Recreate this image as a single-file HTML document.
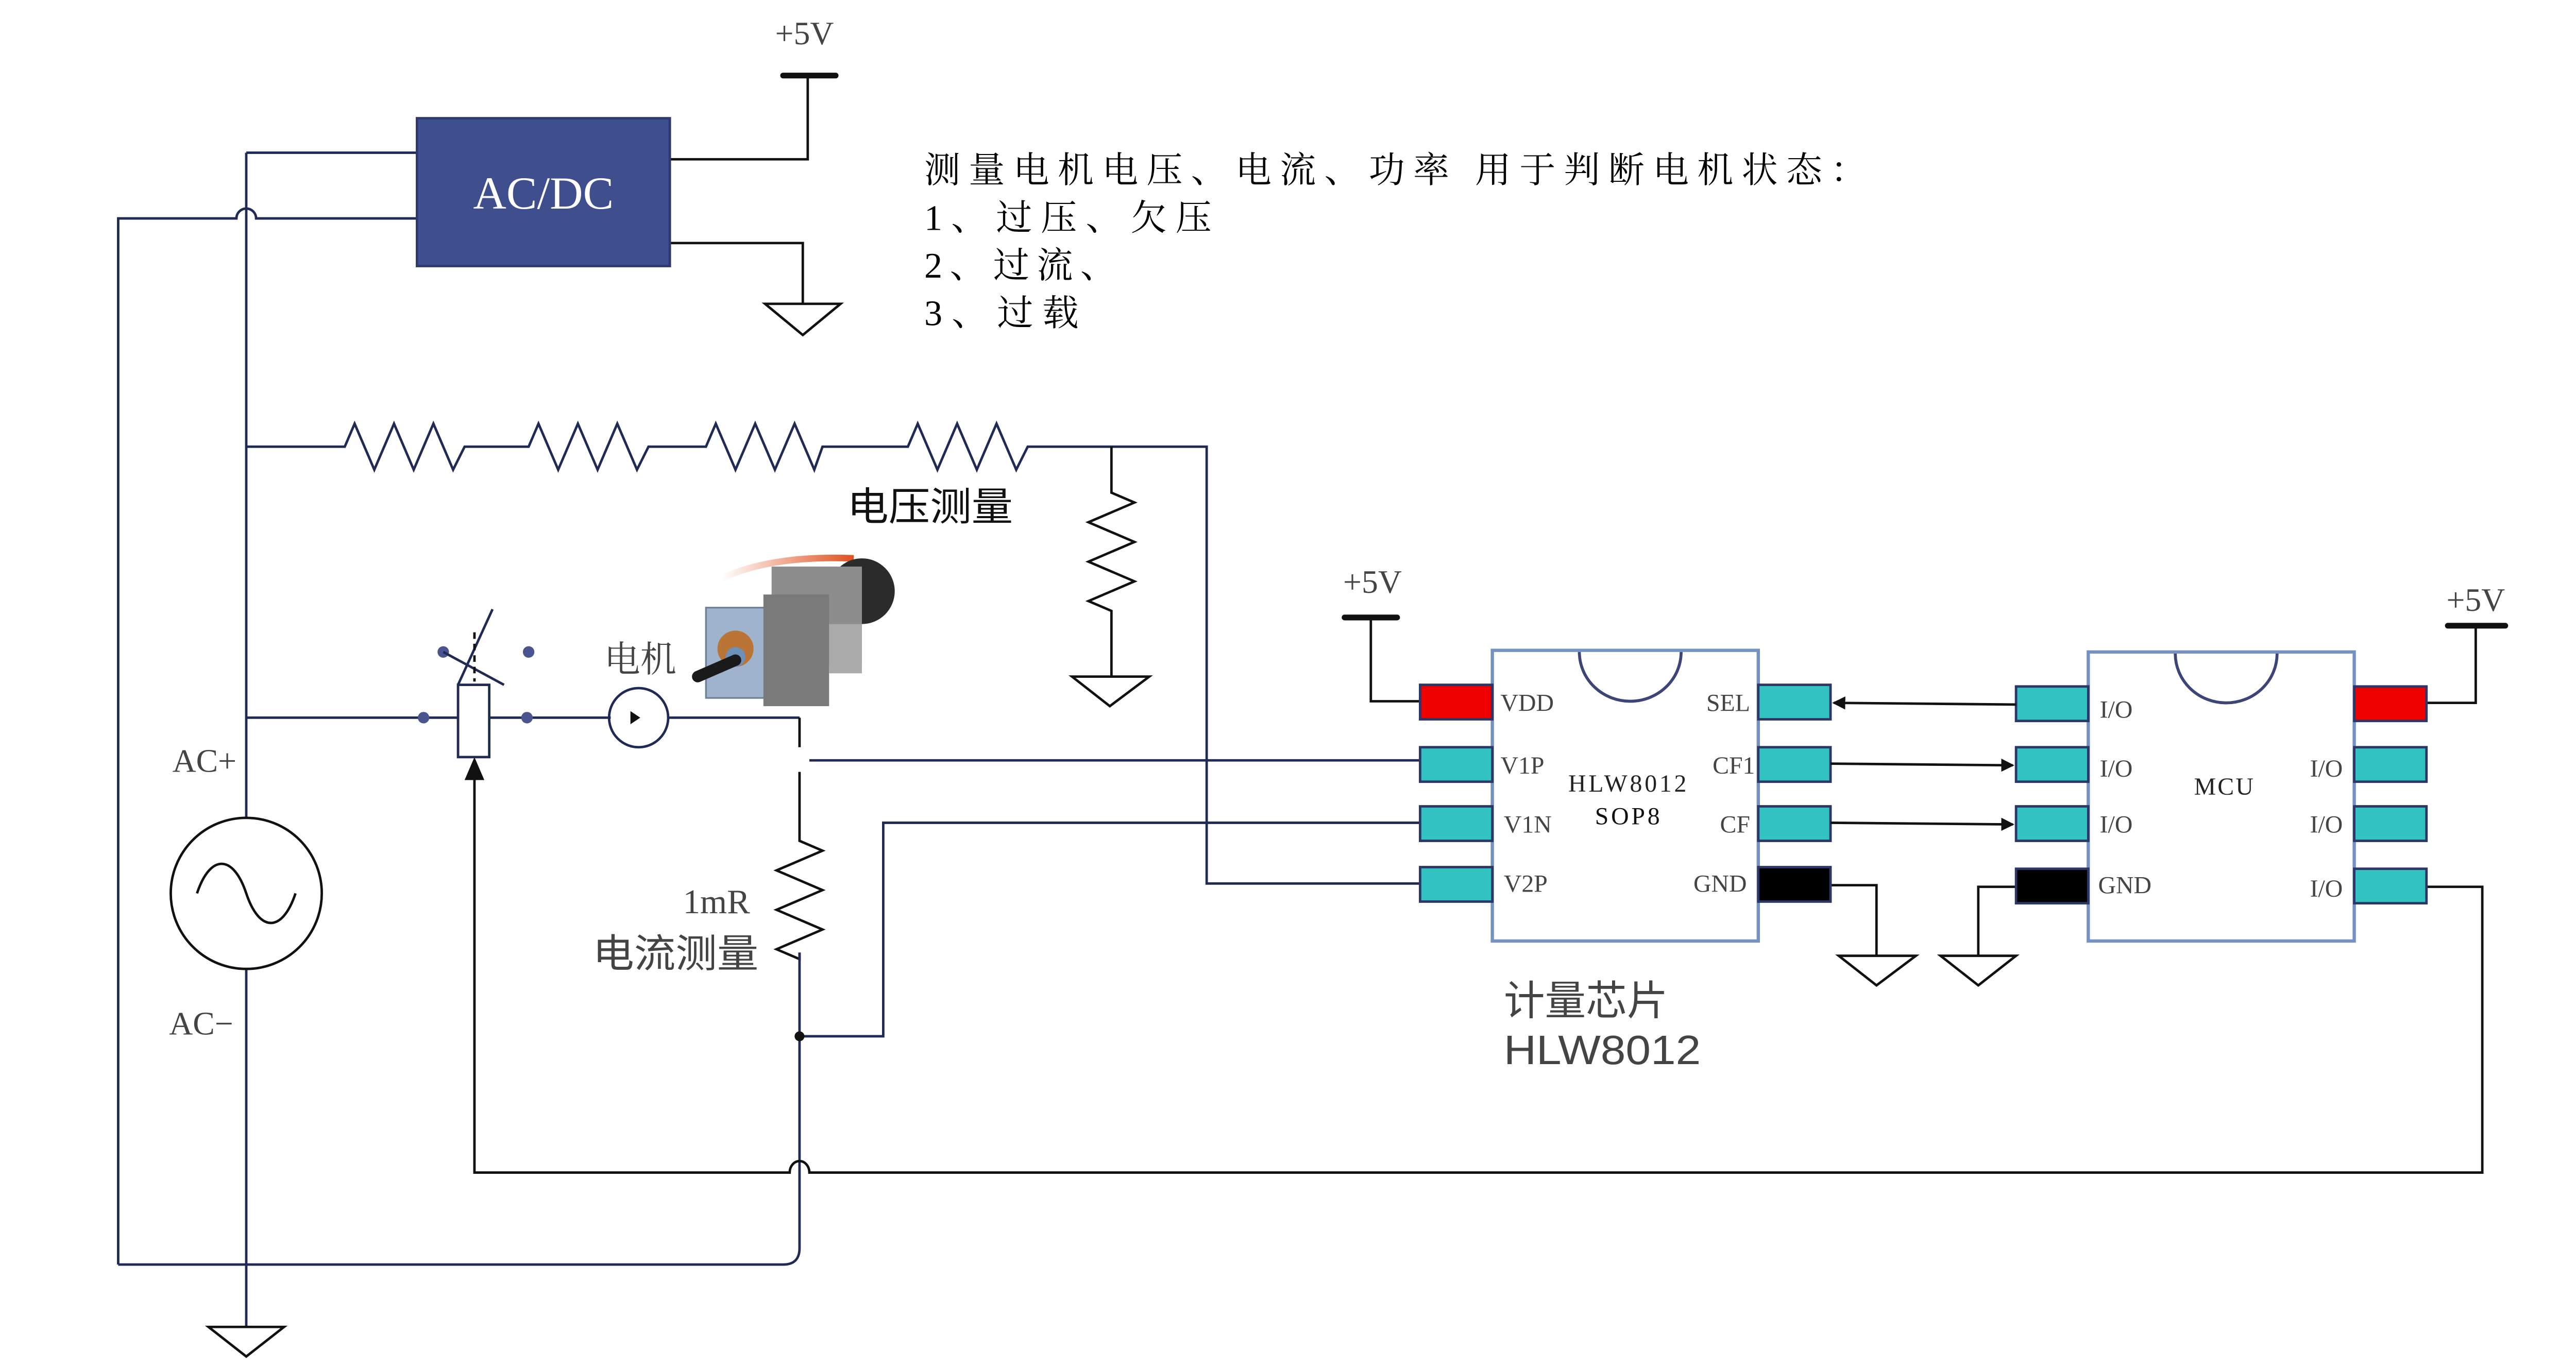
<!DOCTYPE html>
<html><head><meta charset="utf-8"><style>
html,body{margin:0;padding:0;background:#fff;}
svg{display:block;}
</style></head><body>
<svg width="5038" height="2656" viewBox="0 0 1581 833" preserveAspectRatio="none" xmlns="http://www.w3.org/2000/svg">
<defs>
<marker id="ah" markerWidth="8" markerHeight="8" refX="7" refY="4" orient="auto" markerUnits="userSpaceOnUse"><path d="M0,0 L8,4 L0,8 Z" fill="#111"/></marker>
<linearGradient id="wire" x1="0" x2="1"><stop offset="0" stop-color="#fff"/><stop offset="1" stop-color="#e05020"/></linearGradient>
</defs>
<g fill="none" stroke="#1f2a55" stroke-width="1.5">
<path d="M150,93 H254"/>
<path d="M72,770 V133 H144 A6,6 0 0 1 156,133 H254"/>
<path d="M150,93 V498"/>
<path d="M150,590 V808"/>
<path d="M408,97 H492 V46" stroke="#111"/>
<path d="M408,148 H489 V185" stroke="#111"/>
<path d="M150,272 H210 l6,-14 l12,28 l12,-28 l12,28 l12,-28 l12,28 l7,-14 H322 l6,-14 l12,28 l12,-28 l12,28 l12,-28 l12,28 l7,-14 H430 l6,-14 l12,28 l12,-28 l12,28 l12,-28 l12,28 l5,-14 H553 l6,-14 l12,28 l12,-28 l12,28 l12,-28 l12,28 l7,-14 H735 V538 H865"/>
<path d="M677,272 V300 l14,6 l-28,12 l28,12 l-28,12 l28,12 l-28,12 l14,6 V412" stroke="#111"/>
<path d="M150,437 H279 M298,437 H372 M407,437 H487"/>
<path d="M487,437 V455 M487,470 V512 l14,6 l-28,12 l28,12 l-28,12 l28,12 l-28,12 l14,6 V580" stroke="#111"/>
<path d="M487,580 V760 Q487,770 477,770 H72"/>
<path d="M493,463 H865"/>
<path d="M487,631 H538 V501 H865"/>
<path d="M1115,539 H1143 V582 M1228,540 H1205 V582" stroke="#111"/>
<path d="M865,427 H835 V376" stroke="#111"/>
<path d="M1478,428 H1508 V381" stroke="#111"/>
<path d="M1478,540 H1512 V714 H493 A6,7 0 0 0 481,714 H289 V470" stroke="#111"/>
</g>
<path d="M289,461 l-6,14 h12 z" fill="#111"/>
<g stroke="#111" stroke-width="3.5" stroke-linecap="round">
<path d="M477,46 H509 M819,376 H851 M1491,381 H1526"/>
</g>
<g fill="#fff" stroke="#111" stroke-width="1.5">
<path d="M466,185 H512 L489,204 Z"/>
<path d="M127,808 H173 L150,826 Z"/>
<path d="M653,412 H700 L676,430 Z"/>
<path d="M1120,582 H1167 L1143,600 Z"/>
<path d="M1182,582 H1228 L1205,600 Z"/>
</g>
<rect x="254" y="72" width="154" height="90" fill="#3f4e8c" stroke="#2d3a70" stroke-width="1.5"/>
<text x="331" y="127" font-family="'Liberation Serif',serif" font-size="28" fill="#fff" text-anchor="middle">AC/DC</text>
<circle cx="150" cy="544" r="46" fill="#fff" stroke="#111" stroke-width="1.5"/>
<path d="M120,544 C128,520 142,520 150,544 C158,568 172,568 180,544" fill="none" stroke="#111" stroke-width="1.5"/>
<rect x="279" y="417" width="19" height="44" fill="#fff" stroke="#1f2a55" stroke-width="1.5"/>
<g fill="#4a5590"><circle cx="258" cy="437" r="3.5"/><circle cx="321" cy="437" r="3.5"/><circle cx="270" cy="397" r="3.5"/><circle cx="322" cy="397" r="3.5"/><circle cx="487" cy="631" r="3" fill="#111"/></g>
<path d="M270,397 L307,417 M279,417 L300,371" stroke="#1f2a55" stroke-width="1.5" fill="none"/>
<path d="M289,385 V415" stroke="#111" stroke-width="1.5" stroke-dasharray="4,3"/>
<circle cx="389" cy="437" r="18" fill="none" stroke="#1f2a55" stroke-width="1.5"/>
<path d="M384,433 l6,4 l-6,4 z" fill="#111"/>
<g>
<path d="M440,352 Q470,338 520,340" stroke="url(#wire)" stroke-width="4" fill="none"/>
<circle cx="525" cy="360" r="20" fill="#2b2b2b"/>
<rect x="470" y="345" width="55" height="60" fill="#8d8d8d" transform="skew(-10)" />
<rect x="430" y="370" width="55" height="55" fill="#9fb4cc" stroke="#6d7f95"/>
<rect x="465" y="362" width="40" height="68" fill="#7a7a7a"/>
<circle cx="448" cy="395" r="11" fill="#b97436"/>
<circle cx="448" cy="400" r="6" fill="#6d8fb8"/>
<path d="M425,412 L448,402" stroke="#1a1a1a" stroke-width="7" stroke-linecap="round"/>
<rect x="505" y="380" width="20" height="30" fill="#aaa"/>
</g>
<g stroke="#7391c2" stroke-width="2" fill="#fff">
<rect x="909" y="396" width="162" height="177"/>
<rect x="1272" y="397" width="162" height="176"/>
</g>
<g stroke="#3b4578" stroke-width="1.8" fill="#fff">
<path d="M962,397 A31,30 0 0 0 1024,397"/>
<path d="M1325,398 A31,30 0 0 0 1387,398"/>
</g>
<g stroke="#2d3766" stroke-width="1.5">
<rect x="865" y="417" width="44" height="21" fill="#ee0000"/>
<rect x="865" y="455" width="44" height="21" fill="#33c2c2"/>
<rect x="865" y="491" width="44" height="21" fill="#33c2c2"/>
<rect x="865" y="528" width="44" height="21" fill="#33c2c2"/>
<rect x="1071" y="417" width="44" height="21" fill="#33c2c2"/>
<rect x="1071" y="455" width="44" height="21" fill="#33c2c2"/>
<rect x="1071" y="491" width="44" height="21" fill="#33c2c2"/>
<rect x="1071" y="528" width="44" height="21" fill="#000"/>
<rect x="1228" y="418" width="44" height="21" fill="#33c2c2"/>
<rect x="1228" y="455" width="44" height="21" fill="#33c2c2"/>
<rect x="1228" y="491" width="44" height="21" fill="#33c2c2"/>
<rect x="1228" y="529" width="44" height="21" fill="#000"/>
<rect x="1434" y="418" width="44" height="21" fill="#ee0000"/>
<rect x="1434" y="455" width="44" height="21" fill="#33c2c2"/>
<rect x="1434" y="491" width="44" height="21" fill="#33c2c2"/>
<rect x="1434" y="529" width="44" height="21" fill="#33c2c2"/>
</g>
<g stroke="#111" stroke-width="1.5">
<path d="M1228,429 L1117,428" marker-end="url(#ah)"/>
<path d="M1115,465 L1226,466" marker-end="url(#ah)"/>
<path d="M1115,501 L1226,502" marker-end="url(#ah)"/>
</g>
<g font-family="'Liberation Serif','Noto Serif CJK SC',serif" fill="#444" font-size="15">
<text x="914" y="433">VDD</text><text x="914" y="471">V1P</text><text x="916" y="507">V1N</text><text x="916" y="543">V2P</text>
<text x="1066" y="433" text-anchor="end">SEL</text><text x="1069" y="471" text-anchor="end">CF1</text><text x="1066" y="507" text-anchor="end">CF</text><text x="1064" y="543" text-anchor="end">GND</text>
<text x="1279" y="437">I/O</text><text x="1279" y="473">I/O</text><text x="1279" y="507">I/O</text><text x="1278" y="544">GND</text>
<text x="1427" y="473" text-anchor="end">I/O</text><text x="1427" y="507" text-anchor="end">I/O</text><text x="1427" y="546" text-anchor="end">I/O</text>
<text x="992" y="482" text-anchor="middle" fill="#222" letter-spacing="1.5">HLW8012</text>
<text x="992" y="502" text-anchor="middle" fill="#111" letter-spacing="1.5">SOP8</text>
<text x="1355" y="484" text-anchor="middle" fill="#222" letter-spacing="1">MCU</text>
<text x="490" y="27" font-size="20" text-anchor="middle">+5V</text>
<text x="836" y="361" font-size="20" text-anchor="middle">+5V</text>
<text x="1508" y="372" font-size="20" text-anchor="middle">+5V</text>
<text x="105" y="470" font-size="20">AC+</text>
<text x="103" y="630" font-size="20">AC−</text>
<text x="416" y="556" font-size="21">1mR</text>
<text x="368" y="409" font-size="22">电机</text>
</g>
<g font-family="'Liberation Sans','Noto Sans CJK SC',sans-serif" fill="#444">
<text x="361" y="589" font-size="24" textLength="101" lengthAdjust="spacingAndGlyphs">电流测量</text>
<text x="516" y="317" font-size="24" fill="#111" textLength="101" lengthAdjust="spacingAndGlyphs">电压测量</text>
<text x="916" y="618" font-size="25">计量芯片</text>
<text x="916" y="648" font-size="25" textLength="120" lengthAdjust="spacingAndGlyphs">HLW8012</text>
</g>
<g font-family="'Liberation Serif','Noto Serif CJK SC',serif" fill="#000" font-size="22">
<text x="563" y="111" textLength="574" lengthAdjust="spacing">测量电机电压、电流、功率 用于判断电机状态：</text>
<text x="563" y="140" textLength="175" lengthAdjust="spacing">1、过压、欠压</text>
<text x="563" y="169" textLength="117" lengthAdjust="spacing">2、过流、</text>
<text x="563" y="198" textLength="94" lengthAdjust="spacing">3、过载</text>
</g>
</svg>
</body></html>
